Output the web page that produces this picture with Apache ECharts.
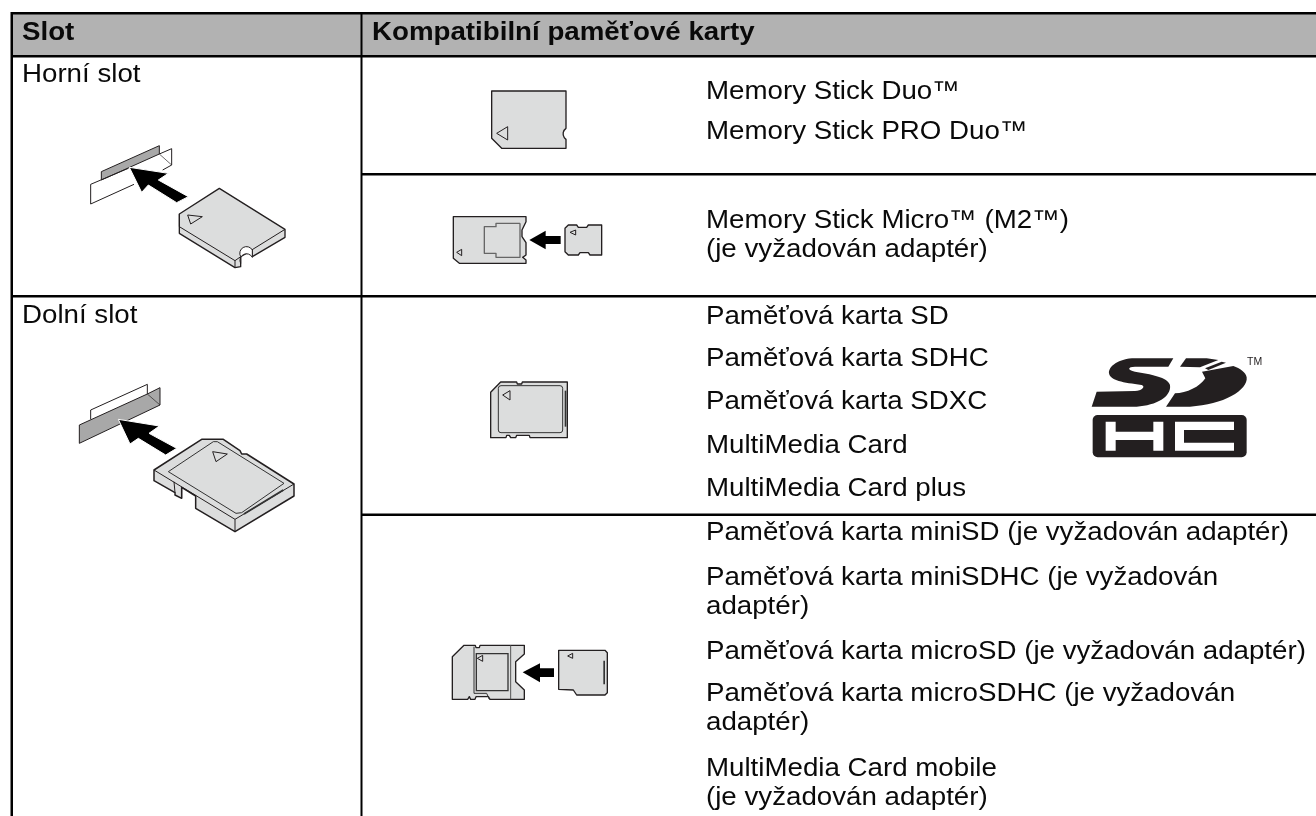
<!DOCTYPE html>
<html><head><meta charset="utf-8">
<style>html,body{margin:0;padding:0;background:#fff}#c{width:1316px;height:816px}</style>
<script src="https://cdn.jsdelivr.net/npm/echarts@6/dist/echarts.min.js"></script>
</head><body><div id="c"></div>
<script>
const headers = ['Slot', 'Kompatibilní paměťové karty'];
const slots = ['Horní slot', 'Dolní slot'];
const memoryStickCards = ['Memory Stick Duo™', 'Memory Stick PRO Duo™'];
const memoryStickMicroCards = ['Memory Stick Micro™ (M2™)', '(je vyžadován adaptér)'];
const sdCards = ['Paměťová karta SD', 'Paměťová karta SDHC', 'Paměťová karta SDXC', 'MultiMedia Card', 'MultiMedia Card plus'];
const miniCards = ['Paměťová karta miniSD (je vyžadován adaptér)', 'Paměťová karta miniSDHC (je vyžadován', 'adaptér)',
  'Paměťová karta microSD (je vyžadován adaptér)', 'Paměťová karta microSDHC (je vyžadován', 'adaptér)',
  'MultiMedia Card mobile', '(je vyžadován adaptér)'];

const FONT = '"Liberation Sans", Arial, sans-serif';
const FS = 25.6, SX = 1.082, INK = '#0a0a0a', CARD = '#dcdddd', DARK = '#231f20';
const els = [];

function txt(s, x, y, o) {
  o = o || {};
  els.push({type:'text', x, y, z:10, scaleX:o.sx||SX, style:{text:s, fill:o.fill||INK, font:(o.w||'normal')+' '+(o.fs||FS)+'px '+FONT, textVerticalAlign:'middle', textAlign:'left'}});
}
function rect(x,y,w,h,fill){ els.push({type:'rect', shape:{x,y,width:w,height:h}, style:{fill}, z:5}); }
function grp(ox, oy, items) {
  els.push({type:'group', x:ox, y:oy, scaleX:1/3, scaleY:1/3, z:3, children:items});
}
function pg(points, fill, stroke, lw) {
  return {type:'polygon', shape:{points}, style:{fill:fill||'none', stroke:stroke||null, lineWidth:lw||4, lineJoin:'round'}};
}
function pl(points, stroke, lw) {
  return {type:'polyline', shape:{points}, style:{fill:'none', stroke:stroke||DARK, lineWidth:lw||3, lineJoin:'round'}};
}
let pathId = 0;
function pth(d, style) {
  const name = 'svgp' + (pathId++);
  echarts.graphic.registerShape(name, echarts.graphic.extendPath(d));
  return {type:name, style:Object.assign({fill:DARK}, style||{})};
}

// table
rect(11,13,1305,43,'#b2b2b2');
rect(11,12,1305,2.5,'#000');
rect(11,55,1305,2.5,'#000');
rect(10.5,12,2.5,804,'#000');
rect(360.5,12,2,804,'#000');
rect(361,173,955,2.5,'#000');
rect(11,295,1305,2.5,'#000');
rect(361,513.5,955,2.5,'#000');

// text
txt(headers[0],22,33,{w:'bold'});
txt(headers[1],372,33,{w:'bold'});
txt(slots[0],22,75);
txt(slots[1],22,316);
const X = 706;
[92,132].forEach((y,i)=>txt(memoryStickCards[i],X,y));
[221,250].forEach((y,i)=>txt(memoryStickMicroCards[i],X,y));
[317,359,402,446,489].forEach((y,i)=>txt(sdCards[i],X,y));
[533,578,607,652,694,723,769,798].forEach((y,i)=>txt(miniCards[i],X,y));

// upper slot illustration
grp(0,0,[
  pg([[304,515],[478,437],[478,462],[304,540]],'#a8a8a8',DARK,3),
  pl([[385,505],[272,553],[272,612],[402,553]],DARK,3),
  pl([[478,462],[515,446],[515,495],[488,510]],DARK,3),
  pl([[478,462],[515,495]],DARK,2),
  pg([[388,502],[505,520],[475,540],[565,590],[530,608],[445,555],[425,577]],'#000','#fff',3),
  pg([[538,642],[658,565],[855,688],[855,712],[757,770],[757,750],[722,770],[722,800],[705,803],[538,700]],CARD,DARK,4),
  pl([[538,680],[705,782],[722,770]],DARK,3),
  pl([[855,688],[755,750]],DARK,3),
  pl([[538,642],[538,680]],DARK,3),
  pl([[705,782],[705,803]],DARK,3),
  pg([[563,645],[607,650],[572,672]],'none',DARK,3),
  pth('M722,770 A19,19 0 0 1 757,750 L757,772 A19,19 0 0 0 722,790 Z',{fill:'#fff',stroke:DARK,lineWidth:3})
]);

// lower slot illustration
grp(0,290,[
  pl([[272,388],[272,360],[442,283],[442,312]],DARK,3),
  pg([[238,405],[442,312],[480,293],[480,345],[238,460]],'#a8a8a8',DARK,3),
  pl([[442,312],[480,345]],DARK,2),
  pg([[355,388],[478,408],[447,430],[530,475],[497,495],[415,445],[390,462]],'#000','#fff',3),
]);
grp(130,430,[
  pg([[72,120],[215,28],[280,28],[330,62],[335,72],[350,72],[492,162],[492,198],[315,305],[197,235],[197,198],[155,172],[155,205],[135,195],[135,188],[72,152]],CARD,DARK,4.5),
  pl([[72,120],[315,268],[492,162]],DARK,3),
  pl([[315,268],[315,305]],DARK,3),
  pl([[132,155],[135,188]],DARK,3),
  pl([[155,172],[155,205]],DARK,3),
  pg([[115,125],[250,35],[262,35],[462,160],[335,248],[318,250]],CARD,'#333',3),
  pg([[248,65],[292,72],[258,95]],'none',DARK,3),
  pl([[342,252],[460,180]],'#333',6),
]);

// memory stick cards
grp(400,60,[
  pth('M275,93 L498,93 L498,205 A20,20 0 0 0 498,238 L498,265 L305,265 L275,235 Z',{fill:CARD,stroke:DARK,lineWidth:4,lineJoin:'round'}),
  pg([[323,200],[290,220],[323,240]],'none',DARK,3),
  pg([[160,470],[378,470],[378,485],[366,510],[366,530],[378,548],[378,585],[368,592],[378,600],[378,610],[178,610],[160,595]],CARD,DARK,4),
  pl([[360,490],[288,490],[288,500],[253,500],[253,580],[288,580],[288,592],[360,592],[360,490]],'#666',4),
  pg([[185,568],[170,577],[185,587]],'none',DARK,3),
  pg([[388,540],[437,512],[437,528],[482,528],[482,552],[437,552],[437,568]],'#000'),
  pg([[495,505],[505,495],[530,495],[535,502],[560,502],[565,495],[605,495],[605,585],[570,585],[565,578],[540,578],[535,585],[505,585],[495,575]],CARD,DARK,4),
  pg([[527,510],[510,517],[527,525]],'none',DARK,3),
]);

// SD cards
grp(400,350,[
  pg([[272,127],[302,96],[350,96],[352,102],[365,102],[367,96],[502,96],[502,263],[390,263],[388,256],[350,256],[347,263],[332,263],[328,256],[320,256],[318,263],[272,263]],CARD,DARK,4),
  {type:'rect',shape:{x:295,y:107,width:193,height:141,r:8},style:{fill:CARD,stroke:'#333',lineWidth:3}},
  {type:'rect',shape:{x:494,y:122,width:5,height:108},style:{fill:'#333'}},
  pg([[330,122],[308,135],[330,150]],'none',DARK,3),
  pg([[157,920],[192,886],[226,886],[228,893],[238,893],[240,886],[373,886],[373,912],[347,935],[347,995],[373,1020],[373,1048],[270,1048],[265,1040],[228,1040],[225,1048],[212,1048],[208,1040],[203,1048],[157,1048]],CARD,DARK,4),
  pl([[222,890],[222,1030],[260,1030],[268,1048]],'#333',3),
  pl([[332,886],[332,1048]],'#555',3),
  {type:'rect',shape:{x:229,y:911,width:95,height:111},style:{fill:CARD,stroke:'#333',lineWidth:4}},
  pg([[248,916],[232,925],[248,934]],'none',DARK,3),
  pg([[368,967],[420,940],[420,955],[462,955],[462,981],[420,981],[420,997]],'#000'),
  pg([[476,901],[615,901],[622,908],[622,1028],[615,1035],[530,1035],[520,1020],[476,1018]],CARD,DARK,4),
  {type:'rect',shape:{x:610,y:932,width:5,height:71},style:{fill:'#333'}},
  pg([[518,910],[503,918],[518,925]],'none',DARK,3),
]);

// SD HC logo
grp(1040,340,[
  pth('M400,55 L285,55 C235,55 205,80 207,100 C210,122 250,128 305,135 C318,140 305,152 285,153 L170,155 L155,200 L290,200 C350,196 395,170 390,135 C385,112 330,102 285,95 C262,90 262,80 285,80 L385,80 Z'),
  pth('M378,200 L450,200 C550,195 625,150 620,112 C618,97 600,85 580,78 L486,95 L496,115 C480,140 440,160 405,160 Z'),
  pth('M420,80 L438,55 L500,55 L535,60 L480,82 Z'),
  pth('M495,85 L545,65 L558,68 L505,90 Z'),
  {type:'rect',shape:{x:158,y:225,width:462,height:127,r:15},style:{fill:DARK}},
  pth('M197,245 L227,245 L227,275 L340,275 L340,245 L370,245 L370,332 L340,332 L340,300 L227,300 L227,332 L197,332 Z',{fill:'#fff'}),
  pth('M405,245 L582,245 L582,270 L432,270 L432,308 L582,308 L582,332 L405,332 Z',{fill:'#fff'}),
]);
txt('TM',1247,362,{fs:10.5,fill:DARK,sx:1});

const chart = echarts.init(document.getElementById('c'), null, {renderer:'canvas'});
chart.setOption({backgroundColor:'#fff', animation:false, graphic:{elements:els}});
</script></body></html>
